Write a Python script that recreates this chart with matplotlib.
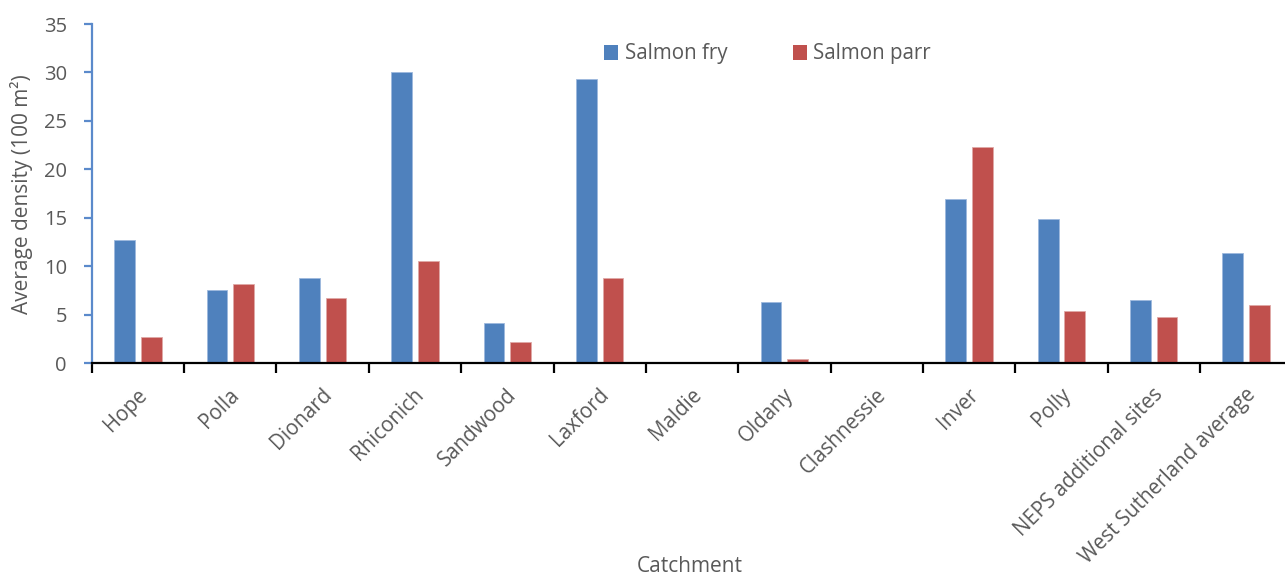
import numpy as np
import matplotlib
matplotlib.use('Agg')
import matplotlib.pyplot as plt
from matplotlib.patches import Patch
import matplotlib.transforms as mtransforms

# ---------------------------
# Data: average juvenile salmon density per catchment
# ---------------------------
catchments = ['Hope', 'Polla', 'Dionard', 'Rhiconich', 'Sandwood', 'Laxford',
              'Maldie', 'Oldany', 'Clashnessie', 'Inver', 'Polly',
              'NEPS additional sites', 'West Sutherland average']
salmon_fry = [12.7, 7.6, 8.8, 30.1, 4.2, 29.3, 0.0, 6.3, 0.0, 16.9, 14.9, 6.5, 11.4]
salmon_parr = [2.7, 8.2, 6.7, 10.6, 2.2, 8.8, 0.0, 0.4, 0.0, 22.3, 5.4, 4.8, 6.0]

FRY_COLOR = '#4F81BD'
PARR_COLOR = '#C0504D'
TEXT_COLOR = '#595959'

plt.rcParams['font.family'] = ['Open Sans', 'DejaVu Sans']

W, H = 1285, 577
fig = plt.figure(figsize=(W / 100, H / 100), dpi=100)
ax = fig.add_axes([91.8 / W, 1 - 363.3 / H, 1200.5 / W, (363.3 - 24) / H])

x = np.arange(len(catchments))
bar_w = 0.225
offset = 0.144
ax.bar(x - offset, salmon_fry, bar_w, color=FRY_COLOR, edgecolor='#9DB9DE', linewidth=0.6)
ax.bar(x + offset, salmon_parr, bar_w, color=PARR_COLOR, edgecolor='#E0A9A7', linewidth=0.6)

ax.set_xlim(-0.5, len(catchments) - 0.5)
ax.set_ylim(0, 35)
ax.set_yticks(np.arange(0, 36, 5))

# spines
for side in ['top', 'right']:
    ax.spines[side].set_visible(False)
ax.spines['left'].set_color('#5B8ACB')
ax.spines['left'].set_linewidth(1.6)
ax.spines['bottom'].set_color('black')
ax.spines['bottom'].set_linewidth(1.6)

ax.tick_params(axis='y', direction='out', length=6, width=1.6, color='#5B8ACB',
               labelsize=14.5, labelcolor=TEXT_COLOR, pad=12)

# category boundary ticks on x, labels at centers
ax.set_xticks(x)
ax.set_xticks(np.arange(-0.5, len(catchments), 1.0), minor=True)
ax.tick_params(axis='x', which='major', length=0, pad=4)
ax.tick_params(axis='x', which='minor', direction='out', length=7, width=1.6, color='black')
ax.set_xticklabels(catchments, rotation=45, ha='right', va='center',
                   rotation_mode='anchor', fontsize=14.8, color=TEXT_COLOR)
shift = mtransforms.ScaledTranslation(6 / 100, -23 / 100, fig.dpi_scale_trans)
for lbl in ax.get_xticklabels():
    lbl.set_transform(lbl.get_transform() + shift)

ax.set_ylabel('Average density (100 m²)', fontsize=15, color=TEXT_COLOR, labelpad=8)
fig.text(690 / W, 1 - 567 / H, 'Catchment', fontsize=15, color=TEXT_COLOR,
         ha='center', va='center')

handles = [Patch(facecolor=FRY_COLOR, label='Salmon fry'),
           Patch(facecolor=PARR_COLOR, label='Salmon parr')]
fig.legend(handles=handles, loc='center left', bbox_to_anchor=(604 / W, 1 - 54 / H),
           ncol=2, frameon=False, fontsize=14.8, labelcolor=TEXT_COLOR,
           handlelength=0.7, handleheight=0.7, handletextpad=0.3,
           columnspacing=3.2, borderpad=0, borderaxespad=0)

fig.savefig('out.png', dpi=100)
